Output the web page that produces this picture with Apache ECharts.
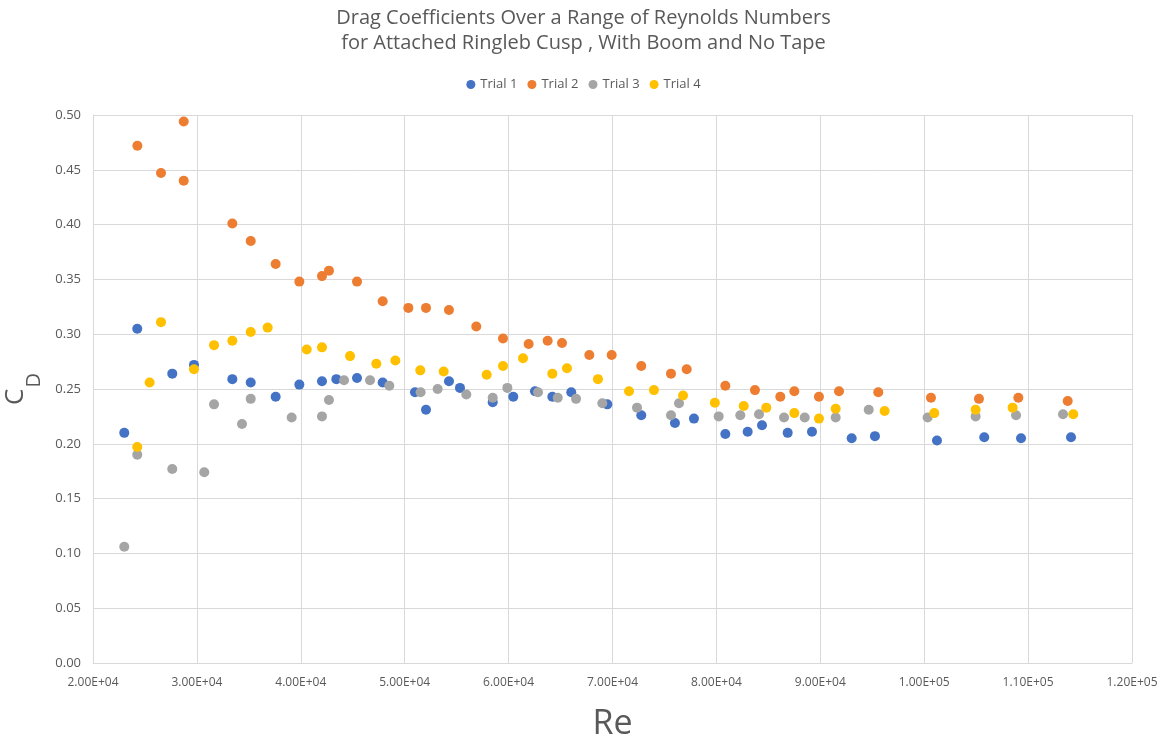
<!DOCTYPE html>
<html>
<head>
<meta charset="utf-8">
<script src="https://cdn.jsdelivr.net/npm/echarts@6/dist/echarts.min.js"></script>
<style>
  html, body { margin: 0; padding: 0; background: #fff; }
  #chart-container { width: 1167px; height: 742px; }
</style>
</head>
<body>
<div id="chart-container"></div>
<script>
// 数据：雷诺数 (Re) 与阻力系数 (Cd)
var trialNames = ['Trial 1', 'Trial 2', 'Trial 3', 'Trial 4'];
var trialColors = ['#4472C4', '#ED7D31', '#A5A5A5', '#FFC000'];

var trial1Re = [23010, 24260, 27630, 29720, 33410, 35180, 37580, 39860, 42040, 43420, 45410, 47880,
    50990, 52050, 54260, 55320, 58470, 60450, 62540, 64210, 66030, 69500, 72770, 76010, 77840,
    80860, 83010, 84390, 86860, 89200, 93020, 95260, 101230, 105780, 109320, 114130];
var trial1Cd = [0.210, 0.305, 0.264, 0.272, 0.259, 0.256, 0.243, 0.254, 0.257, 0.259, 0.260, 0.256,
    0.247, 0.231, 0.257, 0.251, 0.238, 0.243, 0.248, 0.243, 0.247, 0.236, 0.226, 0.219, 0.223,
    0.209, 0.211, 0.217, 0.210, 0.211, 0.205, 0.207, 0.203, 0.206, 0.205, 0.206];

var trial2Re = [24270, 26545, 28730, 28730, 33410, 35180, 37580, 39860, 42040, 42710, 45410, 47880,
    50350, 52050, 54260, 56890, 59460, 61930, 63760, 65140, 67770, 69920, 72770, 75630, 77140,
    80860, 83710, 86150, 87500, 89870, 91800, 95580, 100650, 105270, 109060, 113810];
var trial2Cd = [0.472, 0.447, 0.494, 0.440, 0.401, 0.385, 0.364, 0.348, 0.353, 0.358, 0.348, 0.330,
    0.324, 0.324, 0.322, 0.307, 0.296, 0.291, 0.294, 0.292, 0.281, 0.281, 0.271, 0.264, 0.268,
    0.253, 0.249, 0.243, 0.248, 0.243, 0.248, 0.247, 0.242, 0.241, 0.242, 0.239];

var trial3Re = [23010, 24260, 27630, 30710, 31650, 34340, 35180, 39120, 42040, 42710, 44160, 46660, 48520,
    51530, 53170, 55930, 58470, 59880, 62830, 64730, 66490, 69020, 72360, 75630, 76400,
    80220, 82300, 84100, 86510, 88500, 91480, 94660, 100330, 104950, 108840, 113360];
var trial3Cd = [0.106, 0.190, 0.177, 0.174, 0.236, 0.218, 0.241, 0.224, 0.225, 0.240, 0.258, 0.258, 0.253,
    0.247, 0.250, 0.245, 0.242, 0.251, 0.247, 0.242, 0.241, 0.237, 0.233, 0.226, 0.237,
    0.225, 0.226, 0.227, 0.224, 0.224, 0.224, 0.231, 0.224, 0.225, 0.226, 0.227];

var trial4Re = [24260, 25450, 26545, 29720, 31650, 33410, 35180, 36810, 40570, 42040, 44740, 47270, 49100,
    51500, 53750, 57890, 59460, 61390, 64210, 65620, 68600, 71590, 73990, 76790,
    79850, 82630, 84800, 87500, 89870, 91480, 96190, 100970, 104950, 108510, 114350];
var trial4Cd = [0.197, 0.256, 0.311, 0.268, 0.290, 0.294, 0.302, 0.306, 0.286, 0.288, 0.280, 0.273, 0.276,
    0.267, 0.266, 0.263, 0.271, 0.278, 0.264, 0.269, 0.259, 0.248, 0.249, 0.244,
    0.2375, 0.2345, 0.233, 0.228, 0.223, 0.232, 0.230, 0.228, 0.231, 0.233, 0.227];

var trialRe = [trial1Re, trial2Re, trial3Re, trial4Re];
var trialCd = [trial1Cd, trial2Cd, trial3Cd, trial4Cd];

var textColor = '#595959';
var gridColor = '#d9d9d9';
var fontFamily = '"Open Sans", "Liberation Sans", sans-serif';

// 科学计数法标签，例如 2.00E+04
function sciLabel(v) {
    if (v === 0) return '0.00E+00';
    var e = Math.floor(Math.log10(v) + 1e-9);
    var m = v / Math.pow(10, e);
    var es = (e < 10 ? '0' : '') + e;
    return m.toFixed(2) + 'E+' + es;
}

var myChart = echarts.init(document.getElementById('chart-container'));

var option = {
    animation: false,
    backgroundColor: '#ffffff',
    title: {
        text: 'Drag Coefficients Over a Range of Reynolds Numbers\nfor Attached Ringleb Cusp , With Boom and No Tape',
        left: 'center',
        top: 1,
        textStyle: {
            color: textColor,
            fontSize: 20,
            fontWeight: 'normal',
            fontFamily: fontFamily,
            lineHeight: 25
        }
    },
    legend: {
        top: 73,
        left: 'center',
        icon: 'circle',
        itemWidth: 9,
        itemHeight: 9,
        itemGap: 10,
        textStyle: { color: textColor, fontSize: 13, fontFamily: fontFamily },
        data: trialNames
    },
    grid: {
        left: 93,
        right: 35,
        top: 115,
        bottom: 79,
        containLabel: false,
        outerBoundsMode: 'none'
    },
    xAxis: {
        type: 'value',
        min: 20000,
        max: 120000,
        interval: 10000,
        name: 'Re',
        nameLocation: 'middle',
        nameGap: 44,
        nameTextStyle: { color: textColor, fontSize: 34, fontFamily: fontFamily },
        axisLine: { show: true, lineStyle: { color: gridColor } },
        axisTick: { show: false },
        axisLabel: {
            color: textColor,
            fontSize: 12,
            fontFamily: fontFamily,
            margin: 14,
            formatter: sciLabel
        },
        splitLine: { show: true, lineStyle: { color: gridColor } }
    },
    yAxis: {
        type: 'value',
        min: 0,
        max: 0.5,
        interval: 0.05,
        name: '{c|C}{d|D}',
        nameLocation: 'middle',
        nameGap: 18,
        nameRotate: 90,
        nameTextStyle: {
            color: textColor,
            fontFamily: fontFamily,
            rich: {
                c: { fontSize: 26, lineHeight: 28, color: textColor, fontFamily: fontFamily, verticalAlign: 'top' },
                d: { fontSize: 20, lineHeight: 64, color: textColor, fontFamily: fontFamily, padding: [0, 0, 0, 1] }
            }
        },
        axisLine: { show: true, lineStyle: { color: gridColor } },
        axisTick: { show: false },
        axisLabel: {
            color: textColor,
            fontSize: 13,
            fontFamily: fontFamily,
            margin: 12,
            formatter: function (v) { return v.toFixed(2); }
        },
        splitLine: { show: true, lineStyle: { color: gridColor } }
    },
    series: trialNames.map(function (name, i) {
        return {
            name: name,
            type: 'scatter',
            symbol: 'circle',
            symbolSize: 10,
            itemStyle: { color: trialColors[i], opacity: 1 },
            data: trialRe[i].map(function (re, j) { return [re, trialCd[i][j]]; })
        };
    })
};

myChart.setOption(option);
</script>
</body>
</html>
